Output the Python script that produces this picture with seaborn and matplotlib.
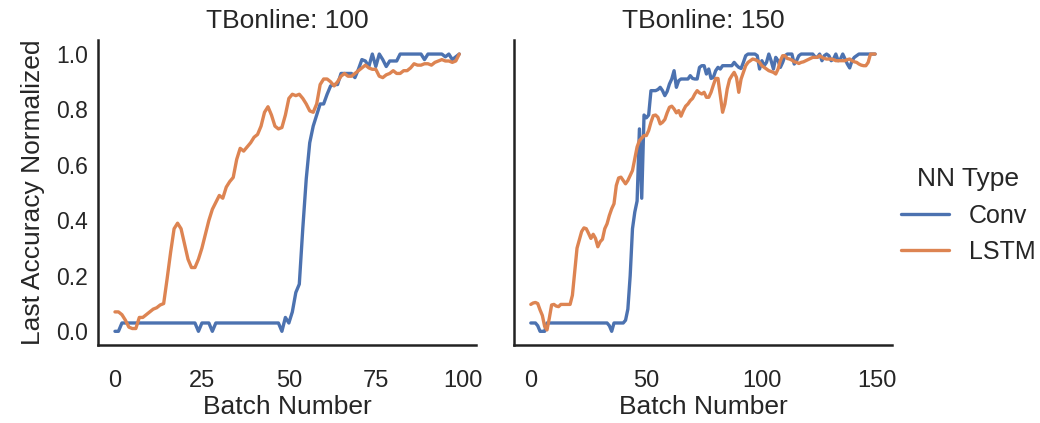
import matplotlib
matplotlib.use("Agg")
import matplotlib.pyplot as plt
import numpy as np
import pandas as pd
import seaborn as sns

# ─────────────────────────────────────────────
# Data
# ─────────────────────────────────────────────
conv_100 = [
    0.0, 0.0, 0.03, 0.03, 0.03, 0.03, 0.03, 0.03, 0.03, 0.03,
    0.03, 0.03, 0.03, 0.03, 0.03, 0.03, 0.03, 0.03, 0.03, 0.03,
    0.03, 0.03, 0.03, 0.03, 0.0, 0.03, 0.03, 0.03, 0.0, 0.03,
    0.03, 0.03, 0.03, 0.03, 0.03, 0.03, 0.03, 0.03, 0.03, 0.03,
    0.03, 0.03, 0.03, 0.03, 0.03, 0.03, 0.03, 0.03, 0.0, 0.05,
    0.03, 0.07, 0.14, 0.17, 0.37, 0.55, 0.68, 0.74, 0.78, 0.82,
    0.82, 0.855, 0.885, 0.89, 0.89, 0.93, 0.93, 0.93, 0.93, 0.915,
    0.945, 0.98, 0.975, 0.955, 1.0, 0.955, 1.0, 0.98, 0.955, 0.975,
    0.975, 0.975, 1.0, 1.0, 1.0, 1.0, 1.0, 1.0, 1.0, 0.98,
    1.0, 1.0, 1.0, 1.0, 1.0, 0.99, 1.0, 0.98, 0.99, 1.0,
]
lstm_100 = [
    0.07, 0.07, 0.06, 0.04, 0.015, 0.01, 0.01, 0.05, 0.05, 0.06,
    0.07, 0.08, 0.085, 0.095, 0.10, 0.19, 0.285, 0.37, 0.39, 0.37,
    0.315, 0.26, 0.23, 0.23, 0.26, 0.30, 0.35, 0.40, 0.44, 0.465,
    0.49, 0.48, 0.52, 0.54, 0.555, 0.62, 0.66, 0.65, 0.665, 0.68,
    0.70, 0.71, 0.74, 0.79, 0.81, 0.78, 0.74, 0.73, 0.735, 0.78,
    0.84, 0.855, 0.85, 0.855, 0.84, 0.82, 0.795, 0.79, 0.82, 0.89,
    0.91, 0.91, 0.90, 0.885, 0.90, 0.92, 0.93, 0.92, 0.92, 0.93,
    0.94, 0.95, 0.96, 0.95, 0.945, 0.945, 0.92, 0.915, 0.925, 0.93,
    0.94, 0.93, 0.93, 0.94, 0.94, 0.95, 0.965, 0.96, 0.96, 0.965,
    0.965, 0.96, 0.97, 0.975, 0.98, 0.975, 0.975, 0.97, 0.975, 1.0,
]
conv_150 = [
    0.03, 0.03, 0.03, 0.02, 0.0, 0.0, 0.0, 0.03, 0.03, 0.03,
    0.03, 0.03, 0.03, 0.03, 0.03, 0.03, 0.03, 0.03, 0.03, 0.03,
    0.03, 0.03, 0.03, 0.03, 0.03, 0.03, 0.03, 0.03, 0.03, 0.03,
    0.03, 0.03, 0.03, 0.03, 0.02, 0.0, 0.03, 0.03, 0.03, 0.03,
    0.03, 0.04, 0.08, 0.20, 0.37, 0.43, 0.47, 0.73, 0.48, 0.78,
    0.77, 0.78, 0.868, 0.868, 0.868, 0.872, 0.88, 0.868, 0.85, 0.865,
    0.892, 0.91, 0.94, 0.88, 0.904, 0.91, 0.91, 0.91, 0.91, 0.922,
    0.912, 0.91, 0.91, 0.952, 0.958, 0.958, 0.928, 0.946, 0.912, 0.916,
    0.94, 0.952, 0.946, 0.958, 0.958, 0.958, 0.958, 0.958, 0.97, 0.96,
    0.952, 0.948, 0.97, 0.994, 1.0, 1.0, 1.0, 1.0, 0.994, 0.946,
    0.976, 0.958, 0.97, 1.0, 0.976, 0.946, 0.988, 0.976, 0.952, 0.97,
    0.994, 1.0, 1.0, 1.0, 0.964, 0.976, 0.994, 1.0, 1.0, 1.0,
    1.0, 1.0, 1.0, 0.99, 0.988, 1.0, 0.976, 0.994, 1.0, 0.994,
    0.976, 0.982, 1.0, 0.976, 0.982, 1.0, 0.982, 0.964, 0.95, 0.976,
    0.988, 0.994, 1.0, 1.0, 1.0, 1.0, 1.0, 1.0, 1.0, 1.0,
]
lstm_150 = [
    0.097, 0.102, 0.104, 0.10, 0.077, 0.057, 0.017, 0.005, 0.047, 0.095,
    0.097, 0.091, 0.089, 0.097, 0.097, 0.097, 0.097, 0.097, 0.13, 0.215,
    0.30, 0.33, 0.36, 0.373, 0.37, 0.353, 0.335, 0.35, 0.335, 0.305,
    0.323, 0.332, 0.37, 0.388, 0.418, 0.442, 0.46, 0.526, 0.553, 0.556,
    0.544, 0.532, 0.544, 0.562, 0.58, 0.622, 0.665, 0.688, 0.697, 0.706,
    0.706, 0.724, 0.754, 0.778, 0.78, 0.772, 0.748, 0.754, 0.764, 0.788,
    0.808, 0.812, 0.802, 0.788, 0.796, 0.776, 0.796, 0.812, 0.82, 0.832,
    0.84, 0.856, 0.868, 0.86, 0.856, 0.862, 0.844, 0.844, 0.862, 0.888,
    0.912, 0.912, 0.85, 0.79, 0.82, 0.874, 0.908, 0.922, 0.934, 0.916,
    0.862, 0.91, 0.934, 0.958, 0.97, 0.976, 0.982, 0.98, 0.976, 0.97,
    0.958, 0.952, 0.946, 0.94, 0.937, 0.934, 0.928, 0.946, 0.976, 0.994,
    0.994, 0.984, 0.982, 0.978, 0.972, 0.97, 0.966, 0.97, 0.972, 0.976,
    0.98, 0.984, 0.988, 0.988, 0.988, 0.994, 0.988, 0.984, 0.982, 0.982,
    0.982, 0.98, 0.976, 0.976, 0.976, 0.976, 0.976, 0.98, 0.982, 0.976,
    0.972, 0.97, 0.964, 0.96, 0.958, 0.958, 0.97, 1.0, 1.0, 1.0,
]

tb_values = [100, 150]
nn_types = ["Conv", "LSTM"]
series = {
    (100, "Conv"): conv_100,
    (100, "LSTM"): lstm_100,
    (150, "Conv"): conv_150,
    (150, "LSTM"): lstm_150,
}

# long-form table for relplot
rows = []
for (tb, nn), vals in series.items():
    for i, v in enumerate(vals):
        rows.append({"Batch Number": i, "Last Accuracy Normalized": v,
                     "NN Type": nn, "TBonline": tb})
df = pd.DataFrame(rows)

# ─────────────────────────────────────────────
# Plot
# ─────────────────────────────────────────────
sns.set_theme(style="white", font_scale=1.3)
plt.rcParams["font.family"] = ["Liberation Sans", "DejaVu Sans"]
plt.rcParams["axes.edgecolor"] = "#222222"
plt.rcParams["axes.linewidth"] = 1.8

g = sns.relplot(
    data=df, x="Batch Number", y="Last Accuracy Normalized",
    hue="NN Type", hue_order=nn_types, col="TBonline", col_order=tb_values,
    kind="line", linewidth=2.4,
    facet_kws={"sharex": False, "sharey": True},
)
g.set_titles("TBonline: {col_name}", size=19, pad=9)
for ax in g.axes.flat:
    ax.set_xlabel("Batch Number", fontsize=19, labelpad=2)
    ax.tick_params(axis="x", labelsize=17, pad=12)
    ax.tick_params(axis="y", labelsize=16.5, pad=1)
g.axes.flat[0].set_ylabel("Last Accuracy Normalized", fontsize=19, labelpad=8)
g.axes.flat[0].set_xticks([0, 25, 50, 75, 100])
g.axes.flat[1].set_xticks([0, 50, 100, 150])
g.axes.flat[0].set_yticks([0.0, 0.2, 0.4, 0.6, 0.8, 1.0])

fig = g.figure
fig.set_size_inches(10.4, 4.23)
fig.subplots_adjust(left=0.094, right=0.858, top=0.905, bottom=0.184, wspace=0.098)

sns.move_legend(g, "center left", bbox_to_anchor=(0.845, 0.49),
                fontsize=18, title_fontsize=19, frameon=False,
                handlelength=1.9)

fig.savefig("out.png", dpi=100)
